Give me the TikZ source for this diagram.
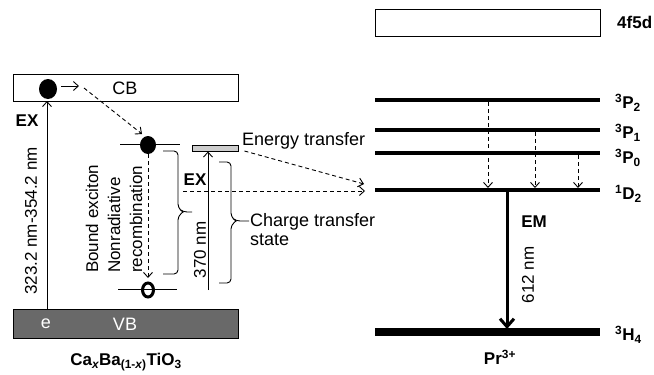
\documentclass[tikz,border=0pt]{standalone}
\usepackage{fontspec}
\setmainfont{Liberation Sans}
\usetikzlibrary{arrows.meta,shapes.geometric}
\definecolor{vbgray}{RGB}{105,105,105}
\definecolor{barGray}{RGB}{205,205,205}
\begin{document}
\begin{tikzpicture}[x=1pt,y=-1pt,
  thinline/.style={line width=0.9pt},
  barb/.style={-{Straight Barb[length=5pt,width=9pt,line width=0.9pt]}},
  dashline/.style={dash pattern=on 4pt off 3pt, line width=0.9pt},
  lbl/.style={font=\fontsize{18}{22}\selectfont, inner sep=0pt},
  vlbl/.style={font=\fontsize{17}{22}\selectfont, inner sep=0pt, rotate=90},
  blbl/.style={font=\bfseries\fontsize{17}{22}\selectfont, inner sep=0pt},
  level/.style={line width=3.5pt},
  bracestyle/.style={thinline, rounded corners=4pt},
]
\useasboundingbox (0,0) rectangle (654,375);

% ---------- left part: Ca_xBa_(1-x)TiO3 ----------
\node[draw, thinline, minimum width=225pt, minimum height=27pt, inner sep=0pt] (cb) at (125.5,87.5) {};
\node[lbl] (cbt) at (125,88) {CB};
\node[draw, thinline, fill=vbgray, minimum width=225pt, minimum height=29pt, inner sep=0pt] (vb) at (125.5,323.5) {};
\node[lbl, text=white] (vbt) at (125,324) {VB};
\node[lbl, text=white] (et) at (46,324) {e};

% electron in CB
\node[ellipse, fill, minimum width=18pt, minimum height=20pt, inner sep=0pt] (e1) at (48,89) {};
\coordinate (s1) at (61,86);
\coordinate (s2) at (79,86);
\draw[thinline, barb] (s1) -- (s2);

% EX excitation
\coordinate (exb) at (47,309);
\coordinate (ext) at (47,101);
\draw[thinline, barb] (exb) -- (ext);
\node[blbl] (ex1) at (27,121) {EX};
\node[vlbl] (wl1) at (31,221) {323.2 nm-354.2 nm};

% bound exciton level
\coordinate (bl1) at (120,144);
\coordinate (bl2) at (180,144);
\draw[thinline] (bl1) -- (bl2);
\node[ellipse, fill, minimum width=16pt, minimum height=18pt, inner sep=0pt] (e2) at (148,145) {};
\coordinate (d1) at (84,88);
\coordinate (d2) at (142,134);
\draw[dashline, barb] (d1) -- (d2);

% lower level with hole
\coordinate (ll1) at (118,289);
\coordinate (ll2) at (177,289);
\draw[thinline] (ll1) -- (ll2);
\node[ellipse, draw, line width=3pt, minimum width=11pt, minimum height=14pt, inner sep=0pt] (h1) at (148,290) {};
\coordinate (rtip) at (148,278);
\draw[dashline, barb] (e2.south) -- (rtip);

\node[vlbl, align=left, anchor=west] (bnr) at (114,273)
  {Bound exciton\\Nonradiative\\recombination};

% brace 1
\coordinate (b1a) at (163,151);
\coordinate (b1t) at (192,212);
\coordinate (b1b) at (163,274);
\draw[bracestyle] (b1a) -- (178,151) -- (178,208) -- (183,212) -- (b1t)
  (183,212) -- (178,216) -- (178,274) -- (b1b);

% charge transfer state
\node[draw, thinline, fill=barGray, minimum width=46pt, minimum height=6pt, inner sep=0pt] (ct) at (215,148) {};
\coordinate (cx) at (208,290);
\draw[thinline, barb] (cx) -- (cx |- ct.south);
\node[blbl] (ex2) at (195,180) {EX};
\node[vlbl] (wl2) at (200,250) {370 nm};

% brace 2
\coordinate (b2a) at (219,162);
\coordinate (b2t) at (249,221);
\coordinate (b2b) at (219,283);
\draw[bracestyle] (b2a) -- (231,162) -- (231,217) -- (236,221) -- (b2t)
  (236,221) -- (231,225) -- (231,283) -- (b2b);
\node[lbl, anchor=base west] (cts1) at (250,226) {Charge transfer};
\node[lbl, anchor=base west] (cts2) at (250,245) {state};

\node[lbl, anchor=base west] (et2) at (242,145) {Energy transfer};

\node[blbl] (cabt) at (126,362) {Ca\textsubscript{\itshape x}Ba\textsubscript{(1-\itshape x\upshape)}TiO\textsubscript{3}};

% ---------- right part: Pr3+ ----------
\node[draw, thinline, minimum width=225pt, minimum height=27pt, inner sep=0pt] (f5d) at (487.5,22.5) {};
\node[blbl, anchor=west] (f5dt) at (617,22) {4f5d};

\coordinate (p2a) at (375,100); \coordinate (p2b) at (600,100);
\coordinate (p1a) at (375,130); \coordinate (p1b) at (600,130);
\coordinate (p0a) at (375,153); \coordinate (p0b) at (600,153);
\coordinate (d2a) at (375,190); \coordinate (d2b) at (600,190);
\coordinate (h4a) at (375,332); \coordinate (h4b) at (600,332);
\draw[level] (p2a) -- (p2b);
\draw[level] (p1a) -- (p1b);
\draw[level] (p0a) -- (p0b);
\draw[level] (d2a) -- (d2b);
\draw[line width=8pt] (h4a) -- (h4b);

\node[blbl, anchor=west] (p2t) at (615,103) {\textsuperscript{3}P\textsubscript{2}};
\node[blbl, anchor=west] (p1t) at (615,133) {\textsuperscript{3}P\textsubscript{1}};
\node[blbl, anchor=west] (p0t) at (615,158) {\textsuperscript{3}P\textsubscript{0}};
\node[blbl, anchor=west] (d2t) at (615,194) {\textsuperscript{1}D\textsubscript{2}};
\node[blbl, anchor=west] (h4t) at (615,335) {\textsuperscript{3}H\textsubscript{4}};

% relaxation arrows
\draw[dashline, barb] (488,102) -- (488,188);
\draw[dashline, barb] (535,132) -- (535,188);
\draw[dashline, barb] (578,155) -- (578,188);

% emission
\coordinate (ema) at (507,191);
\coordinate (emb) at (507,329);
\draw[line width=3pt, -{Straight Barb[length=8pt,width=14pt,line width=3pt]}] (ema) -- (emb);
\node[blbl] (emt) at (534,222) {EM};
\node[vlbl] (wl3) at (528,275) {612 nm};
\node[blbl] (prt) at (500,357) {Pr\textsuperscript{3+}};

% energy transfer arrows
\coordinate (et1) at (364,184);
\coordinate (hz1) at (183,191);
\coordinate (hz2) at (365,191);
\draw[dashline, barb] (ct.east) ++(6,3) -- (et1);
\draw[dashline, barb] (hz1) -- (hz2);
\end{tikzpicture}
\end{document}
